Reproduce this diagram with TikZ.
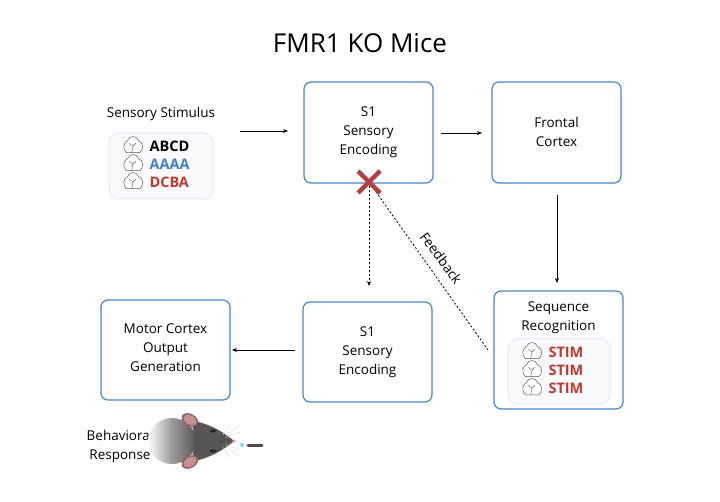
\documentclass[tikz,border=0pt]{standalone}
\usepackage{fontspec}
\setmainfont{Open Sans}
\usetikzlibrary{arrows.meta}
\definecolor{bblue}{HTML}{4A86C8}
\definecolor{tblue}{HTML}{3B82C4}
\definecolor{tred}{HTML}{C0392B}
\definecolor{xred}{HTML}{B24040}
\definecolor{mgray}{HTML}{5A5555}
\definecolor{ear}{HTML}{C99090}
\begin{document}
\begin{tikzpicture}[x=1pt,y=-1pt,
  box/.style={draw=bblue,line width=1.2pt,rounded corners=7pt},
  lbl/.style={font=\fontsize{13.5}{19}\selectfont,align=center},
  arr/.style={-{Stealth[length=5pt,width=4pt]},line width=0.8pt},
  darr/.style={-{Stealth[length=5pt,width=4pt]},line width=0.8pt,dash pattern=on 2pt off 2pt},
  ico/.style={font=\fontsize{14.5}{16}\selectfont\bfseries,anchor=west},
  cloud/.pic={\draw[gray!70!black,line width=0.5pt,fill=white,scale=1.35] (-5,5) .. controls (-8,2) and (-7,-3) .. (-4,-4) .. controls (-3,-8) and (3,-8) .. (4,-4) .. controls (8,-3) and (8,3) .. (5,5) -- cycle; \draw[gray!70!black,line width=0.4pt,scale=1.35] (-1,5)--(0,0)--(2,-2) (0,0)--(-3,-2);}]
\useasboundingbox (0,0) rectangle (720,502);
\node[font=\fontsize{26}{28}\selectfont] (title) at (360,43) {FMR1 KO Mice};
% boxes
\draw[box] (304,82) rectangle (433,183);
\node[lbl] (s1a) at (368.5,132) {S1\\Sensory\\Encoding};
\draw[box] (492,82) rectangle (621,183);
\node[lbl] (fc) at (556.5,132) {Frontal\\Cortex};
\draw[box] (494,291) rectangle (623,409);
\node[lbl] (seq) at (558.5,318) {Sequence\\Recognition};
\draw[box] (303,302) rectangle (432,402);
\node[lbl] (s1b) at (367.5,352) {S1\\Sensory\\Encoding};
\draw[box] (101,300) rectangle (230,400);
\node[lbl] (mc) at (165.5,348) {Motor Cortex\\Output\\Generation};
% stimulus
\node[lbl] (stim) at (161,114) {Sensory Stimulus};
\draw[draw=blue!10,fill=blue!2,line width=1pt,rounded corners=10pt] (109,133) rectangle (213,199);
\foreach \y/\t/\c in {146/ABCD/black,164/AAAA/tblue,182/DCBA/tred}{
  \pic at (133,\y) {cloud};
  \node[ico,text=\c] at (146,\y) {\t};}
% seq inner
\draw[draw=blue!10,fill=blue!2,line width=1pt,rounded corners=10pt] (508,339) rectangle (610,404);
\foreach \y in {352,370,388}{
  \pic at (532,\y) {cloud};
  \node[ico,text=tred] at (545,\y) {STIM};}
% arrows
\coordinate (a1) at (240,131); \coordinate (a2) at (288,131);
\draw[arr] (a1)--(a2);
\coordinate (b1) at (441,133); \coordinate (b2) at (482,133);
\draw[arr] (b1)--(b2);
\coordinate (c1) at (557,195); \coordinate (c2) at (557,283);
\draw[arr] (c1)--(c2);
\coordinate (x) at (369,182);
\coordinate (d2) at (369,286);
\draw[darr] (x)--(d2);
\coordinate (f2) at (488,350);
\draw[line width=0.8pt,dash pattern=on 2pt off 2pt] (x)--(f2);
\node[font=\fontsize{13.5}{15}\selectfont,rotate=-53,inner sep=0pt] (fb) at (441,258) {Feedback};
\coordinate (e1) at (295,350); \coordinate (e2) at (232,350);
\draw[arr] (e1)--(e2);
% cross
\draw[xred,line width=4.5pt] (358,171)--(380,193) (380,171)--(358,193);
% behaviour
\node[lbl] (beh) at (120,446) {Behavioral\\Response};
% mouse
\shade[left color=white,right color=mgray,middle color=mgray!60] (172,441) ellipse (24pt and 23pt);
\fill[mgray] (190,420) .. controls (212,424) and (226,434) .. (234,441) .. controls (226,448) and (212,458) .. (190,462) .. controls (196,450) and (196,432) .. (190,420) -- cycle;
\begin{scope}[rotate around={-30:(190,420)}]
\fill[ear!70!black] (190,420) ellipse (9pt and 6pt);
\fill[ear] (190,420) ellipse (7pt and 4.5pt);
\end{scope}
\begin{scope}[rotate around={30:(190,462)}]
\fill[ear!70!black] (190,462) ellipse (9pt and 6pt);
\fill[ear] (190,462) ellipse (7pt and 4.5pt);
\end{scope}
\fill[black!85] (213,431) ellipse (3.5pt and 1.6pt);
\fill[black!85] (213,451) ellipse (3.5pt and 1.6pt);
\fill[pink!70!red] (234,441) circle (1.6pt);
\draw[gray!35,line width=0.35pt] (226,436)--(238,426) (226,446)--(238,456) (223,435)--(230,424) (223,447)--(230,458) (225,438)--(240,432) (225,444)--(240,450);
\fill[cyan!50] (242,445) circle (2pt);
\draw[black!70,line width=3pt,line cap=round] (248,445)--(262,445);
\end{tikzpicture}
\end{document}
